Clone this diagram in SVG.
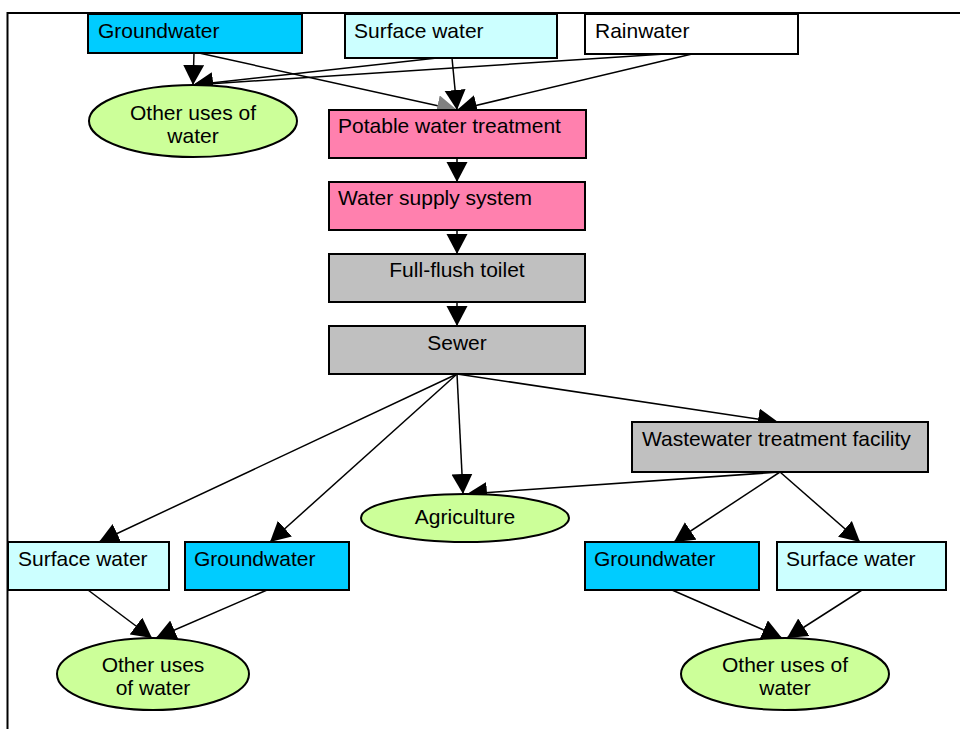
<svg xmlns="http://www.w3.org/2000/svg" width="960" height="729" viewBox="0 0 960 729">
  <style>
    text { font-family: "Liberation Sans", Arial, sans-serif; font-size: 21px; fill: #000; }
    .box { stroke: #000; stroke-width: 2; }
    .ell { fill: #CCFF99; stroke: #000; stroke-width: 2; }
    .ground { fill: #00CCFF; }
    .surface { fill: #CCFFFF; }
    .rain { fill: #FFFFFF; }
    .pink { fill: #FF80AE; }
    .grey { fill: #C0C0C0; }
    .mid { text-anchor: middle; }
    .edge { stroke: #000; stroke-width: 1.5; fill: none; marker-end: url(#arrow); }
    .edge.faint { marker-end: url(#arrow-grey); }
    .frame { stroke: #000; stroke-width: 2; fill: none; }
  </style>
  <defs>
    <marker id="arrow" markerUnits="userSpaceOnUse" markerWidth="21" markerHeight="22" refX="20" refY="10.5" orient="auto">
      <path d="M0,0 L20,10.5 L0,21 Z" fill="#000"/>
    </marker>
    <marker id="arrow-grey" markerUnits="userSpaceOnUse" markerWidth="21" markerHeight="22" refX="20" refY="10.5" orient="auto">
      <path d="M0,0 L20,10.5 L0,21 Z" fill="#808080"/>
    </marker>
  </defs>

  <rect width="960" height="729" fill="#FFFFFF"/>

  <!-- page frame -->
  <path class="frame" d="M7.5,729 L7.5,13 L960,13"/>

  <!-- connectors -->
  <g id="connectors">
    <line class="edge" x1="194" y1="53" x2="193" y2="85"/>
    <line class="edge faint" x1="199" y1="53" x2="457" y2="110"/>
    <line class="edge" x1="437" y1="58" x2="193" y2="85"/>
    <line class="edge" x1="665" y1="54" x2="193" y2="85"/>
    <line class="edge" x1="452" y1="58" x2="457" y2="110"/>
    <line class="edge" x1="692" y1="54" x2="457" y2="110"/>

    <line class="edge" x1="457" y1="158" x2="457" y2="182"/>
    <line class="edge" x1="457" y1="230" x2="457" y2="254"/>
    <line class="edge" x1="457" y1="302" x2="457" y2="326"/>

    <line class="edge" x1="457" y1="374" x2="99" y2="542"/>
    <line class="edge" x1="457" y1="374" x2="270" y2="542"/>
    <line class="edge" x1="457" y1="374" x2="463" y2="494"/>
    <line class="edge" x1="457" y1="374" x2="778" y2="422"/>

    <line class="edge" x1="780" y1="472" x2="467" y2="494"/>
    <line class="edge" x1="780" y1="472" x2="674" y2="542"/>
    <line class="edge" x1="780" y1="472" x2="860" y2="542"/>

    <line class="edge" x1="88" y1="590" x2="152" y2="638"/>
    <line class="edge" x1="267" y1="590" x2="156" y2="638"/>
    <line class="edge" x1="672" y1="590" x2="782" y2="638"/>
    <line class="edge" x1="862" y1="590" x2="787" y2="638"/>
  </g>

  <!-- sources -->
  <g id="groundwater-top">
    <rect class="box ground" x="88" y="14" width="214" height="39"/>
    <text x="98" y="38">Groundwater</text>
  </g>
  <g id="surface-water-top">
    <rect class="box surface" x="345" y="14" width="212" height="44"/>
    <text x="354" y="38">Surface water</text>
  </g>
  <g id="rainwater">
    <rect class="box rain" x="585" y="14" width="213" height="40"/>
    <text x="595" y="38">Rainwater</text>
  </g>
  <g id="other-uses-top">
    <ellipse class="ell" cx="193" cy="121" rx="104" ry="36"/>
    <text class="mid" x="193" y="120">Other uses of</text>
    <text class="mid" x="193" y="143">water</text>
  </g>

  <!-- supply chain -->
  <g id="potable-treatment">
    <rect class="box pink" x="329" y="110" width="257" height="48"/>
    <text x="338" y="133">Potable water treatment</text>
  </g>
  <g id="water-supply">
    <rect class="box pink" x="329" y="182" width="256" height="48"/>
    <text x="338" y="205">Water supply system</text>
  </g>
  <g id="toilet">
    <rect class="box grey" x="329" y="254" width="256" height="48"/>
    <text class="mid" x="457" y="277">Full-flush toilet</text>
  </g>
  <g id="sewer">
    <rect class="box grey" x="329" y="326" width="256" height="48"/>
    <text class="mid" x="457" y="350">Sewer</text>
  </g>

  <!-- discharge -->
  <g id="wastewater-treatment">
    <rect class="box grey" x="632" y="422" width="296" height="50"/>
    <text x="642" y="446">Wastewater treatment facility</text>
  </g>
  <g id="agriculture">
    <ellipse class="ell" cx="465" cy="518" rx="104" ry="24"/>
    <text class="mid" x="465" y="524">Agriculture</text>
  </g>
  <g id="surface-water-left">
    <rect class="box surface" x="8" y="542" width="161" height="48"/>
    <text x="18" y="566">Surface water</text>
  </g>
  <g id="groundwater-left">
    <rect class="box ground" x="185" y="542" width="164" height="48"/>
    <text x="194" y="566">Groundwater</text>
  </g>
  <g id="groundwater-right">
    <rect class="box ground" x="585" y="542" width="174" height="48"/>
    <text x="594" y="566">Groundwater</text>
  </g>
  <g id="surface-water-right">
    <rect class="box surface" x="777" y="542" width="169" height="48"/>
    <text x="786" y="566">Surface water</text>
  </g>
  <g id="other-uses-left">
    <ellipse class="ell" cx="153" cy="674" rx="96" ry="36"/>
    <text class="mid" x="153" y="672">Other uses</text>
    <text class="mid" x="153" y="695">of water</text>
  </g>
  <g id="other-uses-right">
    <ellipse class="ell" cx="785" cy="674" rx="104" ry="36"/>
    <text class="mid" x="785" y="672">Other uses of</text>
    <text class="mid" x="785" y="695">water</text>
  </g>
</svg>
